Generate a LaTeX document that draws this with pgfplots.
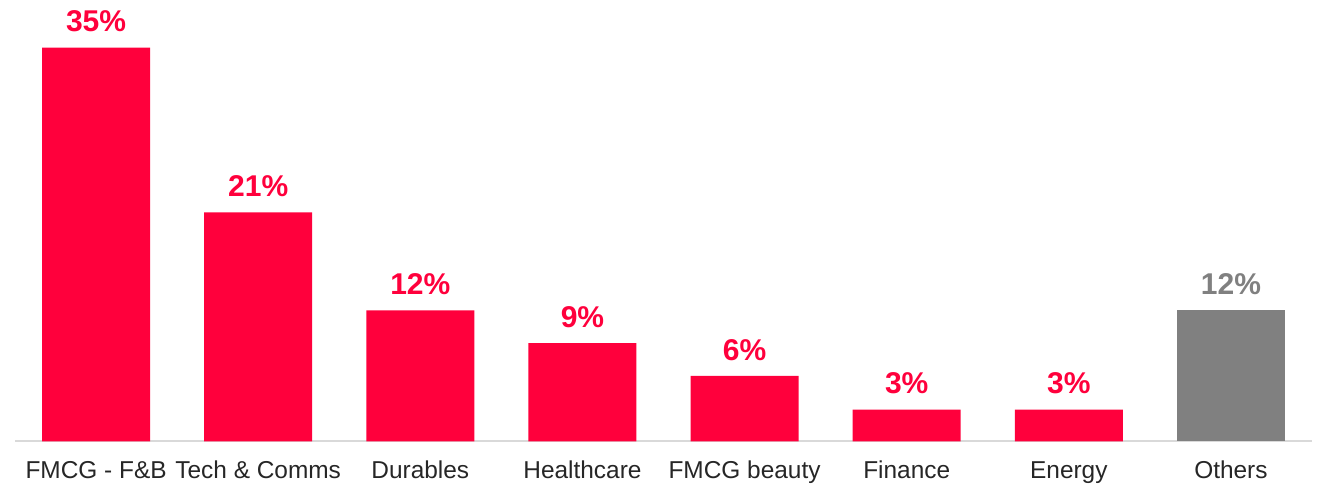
\documentclass[border=0pt]{standalone}
\usepackage{pgfplots}
\pgfplotsset{compat=1.18}
\usepackage{fontspec}
\setmainfont{Liberation Sans}
\definecolor{barred}{HTML}{FF003C}
\definecolor{bargray}{HTML}{808080}
\definecolor{labtext}{HTML}{262626}
\definecolor{baseln}{HTML}{D9D9D9}

\begin{document}
\begin{tikzpicture}
\begin{axis}[
  ybar,
  bar shift=0pt,
  scale only axis,
  width=648pt,
  height=220.5pt,
  xmin=-0.5, xmax=7.5,
  ymin=0, ymax=40.46,
  clip=false,
  axis x line*=bottom,
  axis y line=none,
  x axis line style={draw=baseln, line width=1pt, -},
  xtick={0,1,2,3,4,5,6,7},
  xticklabels={FMCG - F\&B, Tech \& Comms, Durables, Healthcare, FMCG beauty, Finance, Energy, Others},
  major tick length=0pt,
  xticklabel style={font=\fontsize{12.2}{14}\selectfont, text=labtext, inner sep=0pt, anchor=base, yshift=-18.5pt},
  bar width=54pt,
  point meta=explicit symbolic,
  nodes near coords={\pgfplotspointmeta\%},
  every node near coord/.append style={font=\fontsize{15}{17}\selectfont\bfseries, inner sep=0pt, yshift=7.5pt},
]
\addplot[fill=barred, draw=none, nodes near coords style={text=barred}] coordinates {
  (0,36.1) [35]
  (1,21.0) [21]
  (2,12.0) [12]
  (3,9.0) [9]
  (4,6.0) [6]
  (5,2.9) [3]
  (6,2.9) [3]
};
\addplot[fill=bargray, draw=none, nodes near coords style={text=bargray}] coordinates {
  (7,12.0) [12]
};
\end{axis}
\useasboundingbox ([xshift=-7.5pt,yshift=-21.5pt]current axis.south west) rectangle ([xshift=3pt]current axis.north east);
\end{tikzpicture}
\end{document}
